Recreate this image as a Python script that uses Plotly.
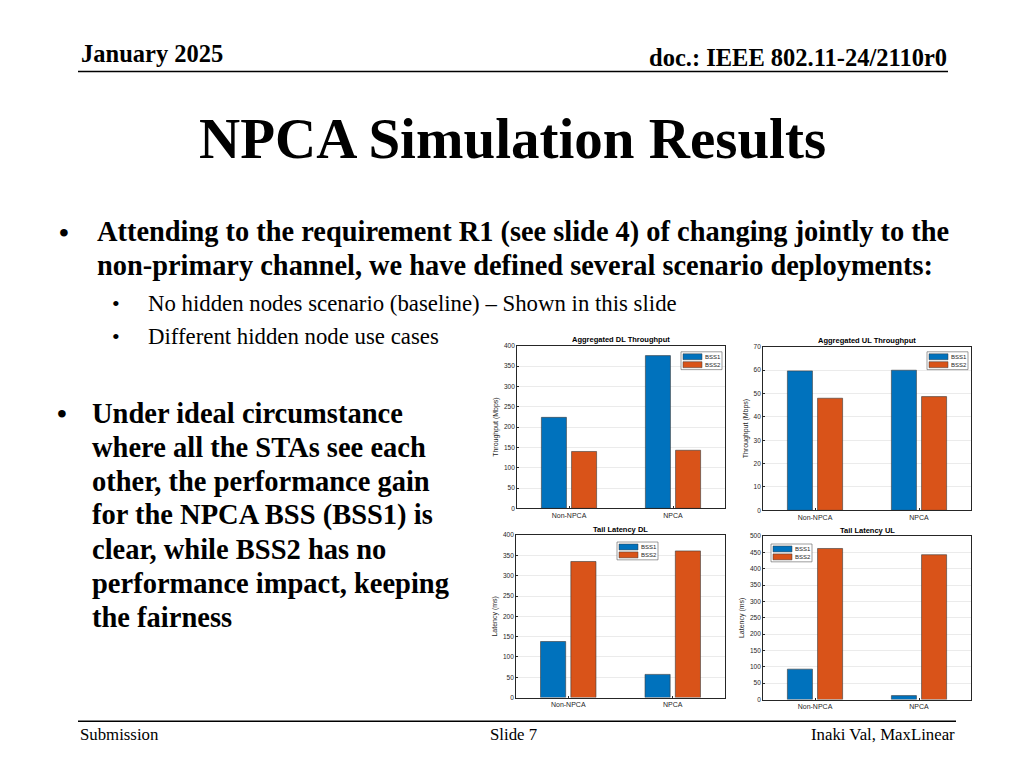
import plotly.graph_objects as go

categories = ["Non-NPCA", "NPCA"]
series_names = ["BSS1", "BSS2"]
dl_tput_bss1 = [224, 376]
dl_tput_bss2 = [140, 143]
ul_tput_bss1 = [59.7, 60.0]
ul_tput_bss2 = [48.0, 48.7]
dl_lat_bss1 = [138, 57]
dl_lat_bss2 = [335, 361]
ul_lat_bss1 = [93, 12]
ul_lat_bss2 = [462, 443]

titles = ["Aggregated DL Throughput", "Aggregated UL Throughput", "Tail Latency DL", "Tail Latency UL"]
ytitles = ["Throughput (Mbps)", "Throughput (Mbps)", "Latency (ms)", "Latency (ms)"]
yranges = [[0, 400], [0, 70], [0, 400], [0, 500]]
ydticks = [50, 10, 50, 50]

# the page body adds an 8px margin; figure sized so page = 1024x768
OFF = 8
W, H = 1008, 752
C1, C2 = "#0072BD", "#D95319"
colors = [C1, C2]
AX = "#262626"


def px(X):
    return (X - OFF) / W


def py(Y):
    return 1 - (Y - OFF) / H


# plot areas in screen pixels: (left, right, top, bottom)
boxes = [(517, 725, 345, 509), (763, 971, 346, 511), (516, 725, 536, 700), (763, 971, 537, 702)]
legpos = [(681, 351), (927, 351), (617, 543), (771, 545)]

data = [(dl_tput_bss1, dl_tput_bss2), (ul_tput_bss1, ul_tput_bss2),
        (dl_lat_bss1, dl_lat_bss2), (ul_lat_bss1, ul_lat_bss2)]

fig = go.Figure()
layout = dict(width=W, height=H, margin=dict(l=0, r=0, t=0, b=0),
              paper_bgcolor="white", plot_bgcolor="white", showlegend=False,
              barmode="group", bargap=0.42, bargroupgap=0.17,
              font=dict(family="Liberation Sans, Arial", color=AX, size=7))
annotations = []
shapes = []
for i, (b1, b2) in enumerate(data):
    n = "" if i == 0 else str(i + 1)
    for name, vals, col in zip(series_names, (b1, b2), colors):
        fig.add_trace(go.Bar(x=categories, y=vals, name=name, marker_color=col,
                             marker_line=dict(color="#3a3a3a", width=0.6),
                             xaxis="x" + n, yaxis="y" + n))
    l, r, t, bt = boxes[i]
    layout["xaxis" + n] = dict(domain=[px(l), px(r)], anchor="y" + n,
                               showline=True, mirror=True, linecolor=AX, linewidth=0.8,
                               ticks="inside", ticklen=2, tickcolor=AX,
                               tickfont=dict(size=7, color=AX), showgrid=False,
                               fixedrange=True)
    layout["yaxis" + n] = dict(domain=[py(bt), py(t)], anchor="x" + n,
                               range=yranges[i], dtick=ydticks[i],
                               showline=True, mirror=True, linecolor=AX, linewidth=0.8,
                               ticks="inside", ticklen=2, tickcolor=AX,
                               tickfont=dict(size=6.5, color=AX),
                               showgrid=True, gridcolor="#ebebeb", gridwidth=0.6,
                               zeroline=False,
                               title=dict(text=ytitles[i], font=dict(size=7, color=AX), standoff=4))
    annotations.append(dict(text="<b>" + titles[i] + "</b>", x=px((l + r) / 2), y=py(t - 6),
                            xref="paper", yref="paper", xanchor="center", yanchor="middle",
                            showarrow=False, font=dict(size=7.5, color="black",
                                                       family="Liberation Sans, Arial")))
    # MATLAB-style legend box
    lx, ly = legpos[i]
    shapes.append(dict(type="rect", xref="paper", yref="paper", x0=px(lx), x1=px(lx + 41),
                       y0=py(ly + 18), y1=py(ly), fillcolor="white",
                       line=dict(color="#5a5a5a", width=0.6)))
    for k, (name, col) in enumerate(zip(series_names, colors)):
        sy = ly + 2 + k * 8
        shapes.append(dict(type="rect", xref="paper", yref="paper", x0=px(lx + 2), x1=px(lx + 21),
                           y0=py(sy + 6), y1=py(sy), fillcolor=col,
                           line=dict(color="#3a3a3a", width=0.5)))
        annotations.append(dict(text=name, x=px(lx + 22), y=py(sy + 3), xref="paper", yref="paper",
                                xanchor="left", yanchor="middle", showarrow=False,
                                font=dict(size=6, color=AX, family="Liberation Sans, Arial")))

SERIF = "Liberation Serif, Times New Roman, serif"


def txt(s, x, y, size, bold=False, anchor="left"):
    annotations.append(dict(text=("<b>" + s + "</b>") if bold else s, x=px(x), y=py(y),
                            xref="paper", yref="paper", xanchor=anchor, yanchor="middle",
                            showarrow=False,
                            font=dict(family=SERIF, size=size, color="black")))


txt("January 2025", 79, 50, 24.5, bold=True)
txt("doc.: IEEE 802.11-24/2110r0", 949, 54, 24.5, bold=True, anchor="right")
txt("NPCA Simulation Results", 512, 136, 57, bold=True, anchor="center")
txt("•", 57, 231, 28, bold=True)
txt("Attending to the requirement R1 (see slide 4) of changing jointly to the", 95, 230, 28.4, bold=True)
txt("non-primary channel, we have defined several scenario deployments:", 95, 264, 28.4, bold=True)
txt("•", 110, 302, 22)
txt("No hidden nodes scenario (baseline) – Shown in this slide", 146, 302, 22.8)
txt("•", 110, 336, 22)
txt("Different hidden node use cases", 146, 336, 22.8)
left_lines = ["Under ideal circumstance", "where all the STAs see each", "other, the performance gain",
              "for the NPCA BSS (BSS1) is", "clear, while BSS2 has no",
              "performance impact, keeping", "the fairness"]
txt("•", 55, 413, 28, bold=True)
for k, s in enumerate(left_lines):
    txt(s, 90, 413 + k * 34.4, 28.5, bold=True)
txt("Submission", 78, 737, 16.8)
txt("Slide 7", 513, 737, 16.8, anchor="center")
txt("Inaki Val, MaxLinear", 957, 737, 16.8, anchor="right")

shapes += [
    dict(type="line", xref="paper", yref="paper", x0=px(78), x1=px(948), y0=py(68), y1=py(68),
         line=dict(color="black", width=1.5)),
    dict(type="line", xref="paper", yref="paper", x0=px(78), x1=px(956), y0=py(724), y1=py(724),
         line=dict(color="black", width=1.5)),
]
layout["annotations"] = annotations
layout["shapes"] = shapes
fig.update_layout(**layout)
fig.write_html("out.html", config={"displayModeBar": False})
